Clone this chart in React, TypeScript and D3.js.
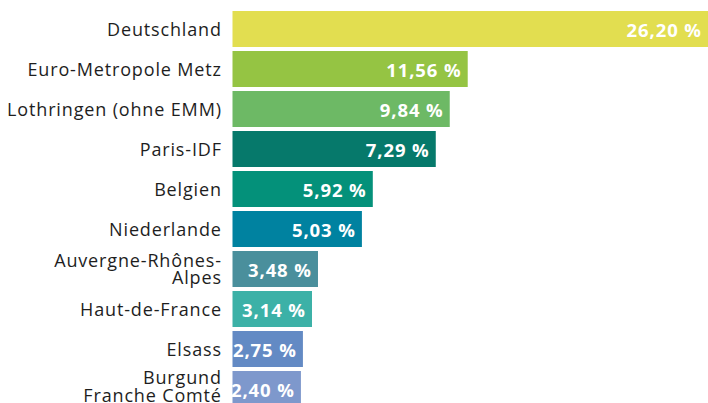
import React from "react";
import * as d3 from "d3";

const categories: string[][] = [
  ["Deutschland"],
  ["Euro-Metropole Metz"],
  ["Lothringen (ohne EMM)"],
  ["Paris-IDF"],
  ["Belgien"],
  ["Niederlande"],
  ["Auvergne-Rhônes-", "Alpes"],
  ["Haut-de-France"],
  ["Elsass"],
  ["Burgund", "Franche Comté"],
];
const shares = [26.2, 11.56, 9.84, 7.29, 5.92, 5.03, 3.48, 3.14, 2.75, 2.4];
// bar lengths as drawn in the reference (same % units)
const barLengths = [26.2, 12.96, 11.97, 11.2, 7.73, 7.13, 4.71, 4.38, 3.88, 3.77];
const colors = [
  "#E2DE50", "#95C443", "#6DB965", "#06796B", "#04917A",
  "#0082A0", "#4A8F9C", "#3CB1A7", "#638AC4", "#7E98CC",
];

const W = 708;
const H = 403;
const FONT = "'Open Sans', sans-serif";

export default function App() {
  const x = d3.scaleLinear().domain([0, 26.2]).range([232.5, 708]);
  const y = d3
    .scaleBand<number>()
    .domain(d3.range(categories.length))
    .range([9, 409])
    .paddingInner(0.1)
    .paddingOuter(0.05);
  const fmt = (v: number) => v.toFixed(2).replace(".", ",") + " %";
  const lineH = 17.6;
  const lsLab = 0.85;
  const lsVal = 0.9;

  return (
    <div style={{ position: "absolute", left: 0, top: 0 }}>
      <svg width={W} height={H} style={{ display: "block" }}>
        {categories.map((lines, i) => {
          const yc = (y(i) as number) + y.bandwidth() / 2;
          const x1 = x(barLengths[i]);
          const n = lines.length;
          const base = lines.map((_, j) => yc + 6.6 + (j - (n - 1) / 2) * lineH);
          const shift = Math.min(0, H - 1 - base[n - 1]);
          return (
            <g key={i}>
              <rect
                x={x(0)}
                y={y(i)}
                width={x1 - x(0)}
                height={y.bandwidth()}
                fill={colors[i]}
              />
              <text
                textAnchor="end"
                fontFamily={FONT}
                fontSize={18}
                letterSpacing={lsLab}
                fill="#1e1e1e"
              >
                {lines.map((l, j) => (
                  <tspan key={j} x={221 + lsLab} y={base[j] + shift}>
                    {l}
                  </tspan>
                ))}
              </text>
              <text
                x={x1 - 7 + lsVal}
                y={yc + 7.5}
                textAnchor="end"
                fontFamily={FONT}
                fontWeight={700}
                fontSize={18.5}
                letterSpacing={lsVal}
                fill="#ffffff"
              >
                {fmt(shares[i])}
              </text>
            </g>
          );
        })}
      </svg>
    </div>
  );
}
